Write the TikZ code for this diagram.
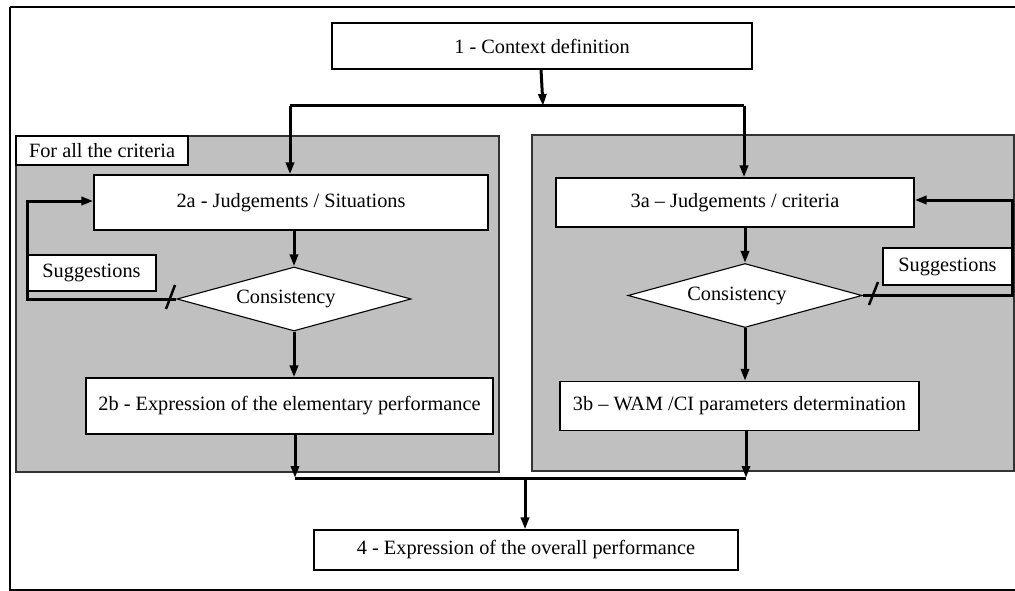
\documentclass[tikz,border=0pt]{standalone}
\usepackage{fontspec}
\setmainfont{Liberation Serif}
\usetikzlibrary{shapes.geometric,arrows.meta}
\begin{document}
\begin{tikzpicture}[x=1pt,y=-1pt,
  every node/.style={font=\fontsize{20.3}{24}\selectfont},
  pbox/.style={draw=black, line width=1.1pt, fill=white, inner sep=0pt},
  decision/.style={diamond, draw=black, line width=1.1pt, fill=white, inner sep=0pt, shape aspect=3.66, minimum width=234pt, minimum height=64pt},
  graybox/.style={draw=black!80, line width=1.3pt, fill={rgb,255:red,192;green,192;blue,192}, inner sep=0pt},
  conn/.style={line width=3pt},
  flow/.style={line width=3pt, -{Triangle[length=12pt,width=8pt]}},
  tickmark/.style={line width=2.5pt}
]
\useasboundingbox (0,0) rectangle (1015,591);
% outer frame
\draw[line width=2pt] (9.5,7.5) -- (1040,7.5) (9.5,7.5) -- (9.5,589.5) -- (1040,589.5);

% grey containers
\node[graybox, minimum width=483pt, minimum height=336pt] (gL) at (257.5,304) {};
\node[graybox, minimum width=482pt, minimum height=336pt] (gR) at (773,303) {};
\node[pbox, minimum width=172pt, minimum height=29pt] (lab) at (102,150.5) {For all the criteria};

% process boxes
\node[pbox, minimum width=420pt, minimum height=46pt] (b1) at (542,46) {1 - Context definition};
\node[pbox, minimum width=394pt, minimum height=55pt] (b2a) at (291,202.5) {2a - Judgements / Situations};
\node[decision] (d2) at (294,299) {\hspace*{-16pt}Consistency};
\node[pbox, minimum width=407pt, minimum height=56pt] (b2b) at (289.5,406) {2b - Expression of the elementary performance};
\node[pbox, minimum width=358pt, minimum height=49pt] (b3a) at (735,202.5) {3a -- Judgements / criteria};
\node[decision] (d3) at (745,295.5) {\hspace*{-16pt}Consistency};
\node[pbox, minimum width=359pt, minimum height=49pt] (b3b) at (739.5,406) {3b -- WAM /CI parameters determination};
\node[pbox, minimum width=424pt, minimum height=40pt] (b4) at (526,550) {4 - Expression of the overall performance};
\node[pbox, minimum width=129pt, minimum height=36pt] (sL) at (91.5,273) {Suggestions};
\node[pbox, minimum width=129pt, minimum height=37pt] (sR) at (947.5,266.5) {Suggestions};

% junction coordinates
\coordinate (jM) at (543,106);
\coordinate (jL) at (290,106);
\coordinate (jR) at (744,106);
\coordinate (kL) at (295,478);
\coordinate (kR) at (746,478);
\coordinate (kM) at (525,478);
\coordinate (fL1) at (27,299);
\coordinate (fL2) at (27,201);
\coordinate (fR1) at (1012,295.5);
\coordinate (fR2) at (1012,200);

% connectors
\draw[flow] ([xshift=-1pt]b1.south) -- (jM);
\draw[conn] (jL) -- (jR);
\draw[flow] (jL) -- (jL |- b2a.north);
\draw[flow] (jR) -- (jR |- b3a.north);
\draw[flow] (b2a.south -| d2.north) -- (d2.north);
\draw[flow] (d2.south) -- (d2.south |- b2b.north);
\draw[flow] (b3a.south -| d3.north) -- (d3.north);
\draw[flow] (d3.south) -- (d3.south |- b3b.north);
\draw[flow] (b2b.south -| kL) -- (kL);
\draw[flow] (b3b.south -| kR) -- (kR);
\draw[conn] (kL) -- (kR);
\draw[flow] (kM) -- (kM |- b4.north);
\draw[flow] (d2.west) -- (fL1) -- (fL2) -- (fL2 -| b2a.west);
\draw[flow] (d3.east) -- (fR1) -- (fR2) -- (fR2 -| b3a.east);

% tick marks
\draw[tickmark] (166,309) -- (175,285);
\draw[tickmark] (869,305) -- (878,282);
\end{tikzpicture}
\end{document}
